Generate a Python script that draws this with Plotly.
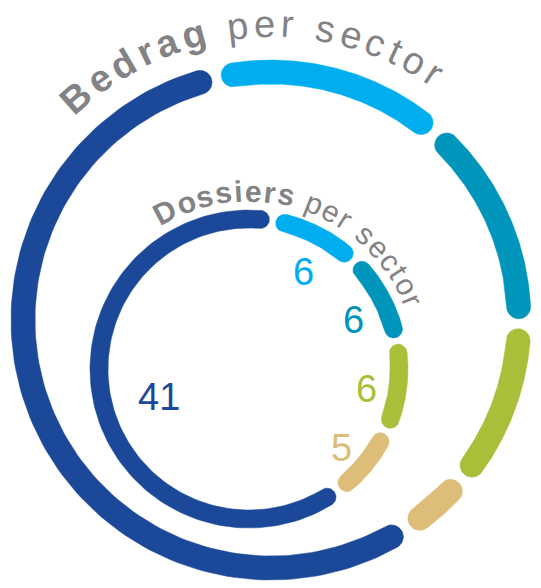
import numpy as np
import plotly.graph_objects as go

# ---------------------------------------------------------------
# data
# ---------------------------------------------------------------
sectors = ['Sector 1', 'Sector 2', 'Sector 3', 'Sector 4', 'Sector 5']
sector_colors = ['#1b4899', '#00aeef', '#0095ba', '#a9bf3a', '#ddbd78']
bedrag_share = [56.8, 14.8, 13.6, 10.5, 4.3]   # % of amount
dossiers = [41, 6, 6, 6, 5]

outer_title = [('Bedrag', True), ('per sector', False)]
inner_title = [('Dossiers', True), ('per sector', False)]

# ---------------------------------------------------------------
# geometry / style
# ---------------------------------------------------------------
W, H = 541, 588
GREY = '#838386'
FONT = 'Liberation Sans, Arial, sans-serif'

OUTER = dict(cx=271, cy=320, r=248, w=24, start=148.2, gap=2.3)
INNER = dict(cx=249, cy=369, r=150, w=18, start=145.2, gap=2.5)

# Arial / Liberation Sans advance widths (1/1000 em)
REG = {' ': 278, 'p': 556, 'e': 556, 'r': 333, 's': 500, 'c': 500, 't': 278,
       'o': 556, 'i': 222, 'd': 556, 'a': 556, 'g': 556, 'B': 667, 'D': 722}
BOLD = {' ': 278, 'p': 611, 'e': 556, 'r': 389, 's': 556, 'c': 556, 't': 333,
        'o': 611, 'i': 278, 'd': 611, 'a': 556, 'g': 611, 'B': 722, 'D': 722}


def pt(cx, cy, r, a):
  a = np.radians(a)
  return cx + r * np.sin(a), cy - r * np.cos(a)


def segments(values, ring):
  # each arc (round caps included) takes its share of the circle
  total = sum(values)
  avail = 360 - len(values) * ring['gap']
  cap = np.degrees(ring['w'] / 2 / ring['r'])
  out = []
  pos = ring['start']
  for v in values:
    span = v / total * avail
    out.append((pos + cap, pos + span - cap))
    pos += span + ring['gap']
  return out


def band(ring, a0, a1):
  cx, cy, r, hw = ring['cx'], ring['cy'], ring['r'], ring['w'] / 2
  arc = np.linspace(a0, a1, 120)
  phi = np.linspace(0, np.pi, 30)
  xs, ys = [], []
  ox, oy = pt(cx, cy, r + hw, arc)
  xs += list(ox); ys += list(oy)
  # end cap
  a = np.radians(a1)
  ux, uy, tx, ty = np.sin(a), -np.cos(a), np.cos(a), np.sin(a)
  ex, ey = pt(cx, cy, r, a1)
  xs += list(ex + hw * (ux * np.cos(phi) + tx * np.sin(phi)))
  ys += list(ey + hw * (uy * np.cos(phi) + ty * np.sin(phi)))
  ix, iy = pt(cx, cy, r - hw, arc[::-1])
  xs += list(ix); ys += list(iy)
  # start cap
  a = np.radians(a0)
  ux, uy, tx, ty = np.sin(a), -np.cos(a), np.cos(a), np.sin(a)
  sx, sy = pt(cx, cy, r, a0)
  xs += list(sx - hw * (ux * np.cos(phi) + tx * np.sin(phi)))
  ys += list(sy - hw * (uy * np.cos(phi) + ty * np.sin(phi)))
  xs.append(xs[0]); ys.append(ys[0])
  return xs, ys


def arc_text(parts, cx, cy, r, start, size, track):
  notes = []
  pos = 0.0  # arc length in px
  first = True
  for text, bold in parts:
    if not first:
      pos += REG[' '] * size / 1000 + track
    first = False
    table = BOLD if bold else REG
    for ch in text:
      w = table[ch] * size / 1000
      if ch != ' ':
        ang = start + np.degrees((pos + w / 2) / r)
        x, y = pt(cx, cy, r, ang)
        notes.append(dict(
          x=x, y=y, xref='x', yref='y', text=ch, showarrow=False,
          textangle=ang, xanchor='center', yanchor='middle',
          font=dict(family=FONT, size=size, color=GREY,
                    weight='bold' if bold else 'normal')))
      pos += w + track
  return notes


# ---------------------------------------------------------------
# figure
# ---------------------------------------------------------------
fig = go.Figure()

for ring, values in ((OUTER, bedrag_share), (INNER, dossiers)):
  for name, color, (a0, a1) in zip(sectors, sector_colors, segments(values, ring)):
    xs, ys = band(ring, a0, a1)
    fig.add_trace(go.Scatter(
      x=xs, y=ys, mode='lines', fill='toself', fillcolor=color,
      line=dict(color=color, width=0.5), name=name, hoverinfo='skip'))

# dossier counts inside the inner ring
annotations = []
for v, color, (a0, a1) in zip(dossiers, sector_colors, segments(dossiers, INNER)):
  mid = (a0 + a1) / 2
  lr = 96 if a1 - a0 > 180 else 115
  x, y = pt(INNER['cx'], INNER['cy'], lr, mid)
  annotations.append(dict(
    x=x, y=y, xref='x', yref='y', text=str(v), showarrow=False,
    xanchor='center', yanchor='middle', xshift=3, yshift=-6,
    font=dict(family=FONT, size=38, color=color)))

annotations += arc_text(outer_title, OUTER['cx'], OUTER['cy'], 296, -44, 38, 6.0)
annotations += arc_text(inner_title, INNER['cx'], INNER['cy'], 178, -31.5, 30, 2.4)

fig.update_layout(
  width=W, height=H, margin=dict(l=0, r=0, t=0, b=0),
  paper_bgcolor='white', plot_bgcolor='white', showlegend=False,
  annotations=annotations,
)
fig.update_xaxes(range=[0, W], visible=False, fixedrange=True)
fig.update_yaxes(range=[H, 0], visible=False, fixedrange=True)

# drop the default body margin so the figure fills the window exactly
fig.write_html('out.html', config={'displayModeBar': False},
               post_script="document.body.style.margin='0';")
